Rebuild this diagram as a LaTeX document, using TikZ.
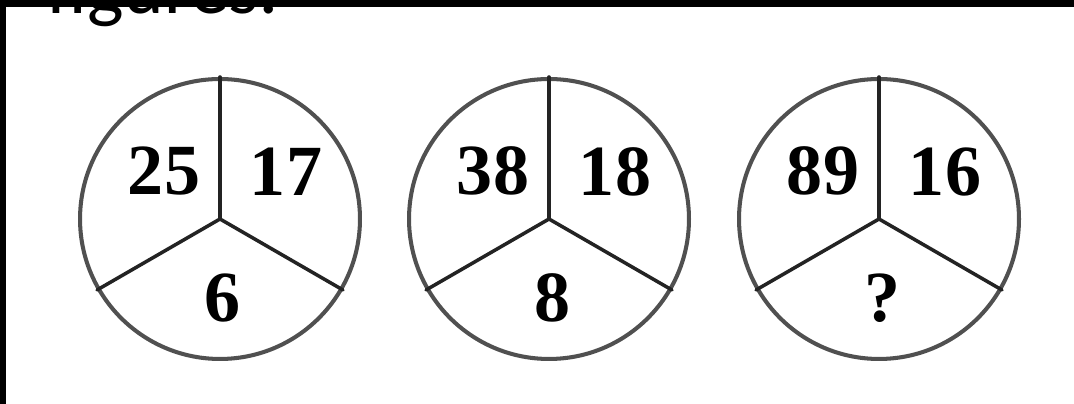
\documentclass[tikz,border=0pt]{standalone}
\usepackage{fontspec}
\setmainfont{Liberation Serif}
\newfontfamily\headfont{Carlito}
\usetikzlibrary{calc}

\begin{document}
\begin{tikzpicture}[x=0.02cm, y=-0.02cm, line cap=round, line join=round]

% Colors
\definecolor{rimgray}{RGB}{80,80,80}
\definecolor{spokegray}{RGB}{35,35,35}

\tikzset{
  wheel/.style={circle, draw=rimgray, line width=2.3pt, minimum size=5.6cm, inner sep=0pt},
  spoke/.style={draw=spokegray, line width=2pt},
  num/.style={font=\fontsize{41}{41}\selectfont\bfseries, inner sep=0pt, text=black}
}

% Background
\fill[white] (0,0) rectangle (1074,404);
\useasboundingbox (0,0) rectangle (1074,404);

% Heading (cut off at the top)
\node[anchor=base west, inner sep=0pt, font=\headfont\fontsize{44}{44}\selectfont] (head) at (46,14) {figures:};

% Wheels
\foreach \i/\x/\a/\b/\c in {1/220/25/17/6, 2/549/38/18/8, 3/879/89/16/?}{
  \node[wheel] (c\i) at (\x,219) {};
  \draw[spoke] (c\i.center) -- (c\i.north);
  \draw[spoke] (c\i.center) -- (c\i.210);
  \draw[spoke] (c\i.center) -- (c\i.330);
  \node[num] (l\i) at ([shift={(-56,-48)}]c\i.center) {\a};
  \node[num] (r\i) at ([shift={(66,-47)}]c\i.center) {\b};
  \node[num] (b\i) at ([shift={(3,79)}]c\i.center) {\c};
}

% Black frame edges
\fill[black] (0,0) rectangle (1074,7);
\fill[black] (0,0) rectangle (6,404);
\end{tikzpicture}
\end{document}
